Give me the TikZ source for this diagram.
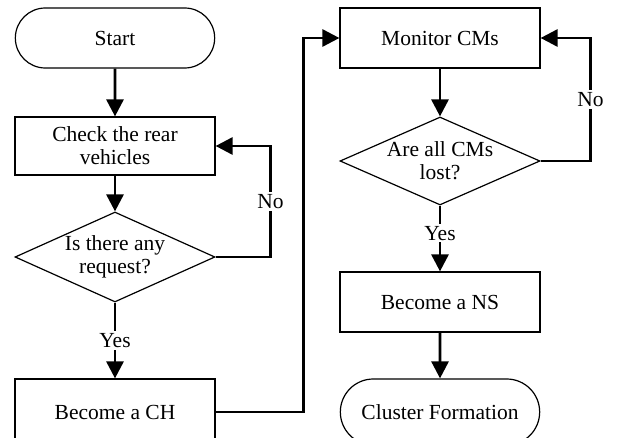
\documentclass[tikz,border=0pt]{standalone}
\usepackage{fontspec}
\setmainfont{Liberation Serif}
\usetikzlibrary{shapes.geometric,shapes.misc,arrows.meta}
\tikzstyle{terminal}=[
        draw,
        rounded rectangle,
        line width = 1.2pt,
        minimum width = 206pt,
        minimum height = 60pt
    ]
\tikzstyle{process}=[
    draw,
    rectangle,
    line width = 1.2pt,
    minimum width = 200pt,
    minimum height = 58pt,
    align = center
]
\tikzstyle{decision}=[
    draw,
    diamond,
    line width = 1.2pt,
    aspect = 2.2,
    inner sep = 0pt,
    minimum width = 200pt,
    minimum height = 90pt,
    align = center
]
\tikzstyle{flow}=[line width = 2.8pt, -{Triangle[width=17pt,length=17pt]}]
\tikzstyle{tag}=[fill = white, inner sep = 2pt]

\begin{document}
\begin{tikzpicture}[font=\fontsize{21.5}{23}\selectfont]
        \useasboundingbox (0,0) rectangle (618pt,-438pt);
        \node[terminal] (start) at (115pt,-38pt) {Start};
        \node[process, node distance=108pt, below of = start] (check) {Check the rear\\vehicles};
        \node[decision, node distance=111pt, below of = check] (req) {Is there any\\request?};
        \node[process, node distance=155pt, below of = req, minimum height=66pt] (ch) {Become a CH};
        \node[process, node distance=325pt, right of = start, minimum height=60pt] (monitor) {Monitor CMs};
        \node[decision, node distance=123pt, below of = monitor, minimum height=88pt] (lost) {Are all CMs\\lost?};
        \node[process, node distance=141pt, below of = lost, minimum height=60pt] (ns) {Become a NS};
        \node[terminal, node distance=110pt, below of = ns, minimum height=66pt] (cluster) {Cluster Formation};

        \draw[flow] (start) -- (check);
        \draw[flow] (check) -- (req);
        \draw[flow] (req) -- node[tag] {Yes} (ch);
        \draw[flow] (req.east) -- ++(55pt,0) |- node[tag, pos=0.25] {No} (check.east);
        \draw[flow] (ch.east) -- ++(88pt,0) |- (monitor.west);
        \draw[flow] (monitor) -- (lost);
        \draw[flow] (lost.east) -- ++(50pt,0) |- node[tag, pos=0.25] {No} (monitor.east);
        \draw[flow] (lost) -- node[tag, pos=0.42] {Yes} (ns);
        \draw[flow] (ns) -- (cluster);

    \end{tikzpicture}
\end{document}
